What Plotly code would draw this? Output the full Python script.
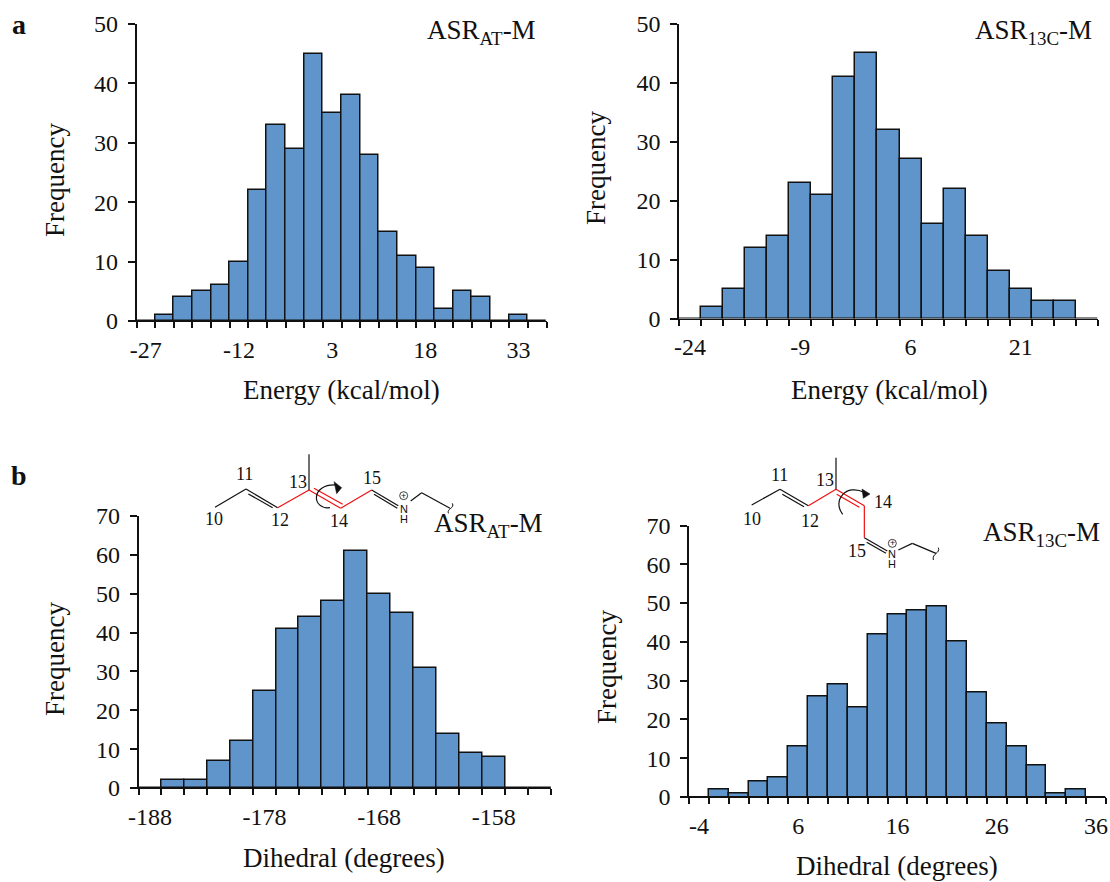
import plotly.graph_objects as go
from plotly.subplots import make_subplots

W, H = 1110, 882
FONT = "Liberation Serif"
BAR = "#5F95CA"

# ---- data ----
energy_at_bins = [str(v) for v in range(-27, 39, 3)]
energy_at_counts = [0, 1, 4, 5, 6, 10, 22, 33, 29, 45, 35, 38, 28, 15, 11, 9, 2, 5, 4, 0, 1, 0]
energy_13c_bins = [str(v) for v in range(-24, 33, 3)]
energy_13c_counts = [0, 2, 5, 12, 14, 23, 21, 41, 45, 32, 27, 16, 22, 14, 8, 5, 3, 3, 0]
dihedral_at_bins = [str(v) for v in range(-188, -152, 2)]
dihedral_at_counts = [0, 2, 2, 7, 12, 25, 41, 44, 48, 61, 50, 45, 31, 14, 9, 8, 0, 0]
dihedral_13c_bins = [str(v) for v in range(-4, 38, 2)]
dihedral_13c_counts = [0, 2, 1, 4, 5, 13, 26, 29, 23, 42, 47, 48, 49, 40, 27, 19, 13, 8, 1, 2, 0]

def px(x): return x / W
def py(y): return 1 - y / H

panels = [
    dict(bins=energy_at_bins, counts=energy_at_counts, ymax=50, x0=136.5, x1=546.5, y0=24, y1=321,
         xlabel="Energy (kcal/mol)", xl=(341, 390), yl=(55, 180),
         name="ASR<sub>AT</sub>-M", nm=(481, 32)),
    dict(bins=energy_13c_bins, counts=energy_13c_counts, ymax=50, x0=679, x1=1098, y0=24, y1=318.5,
         xlabel="Energy (kcal/mol)", xl=(889, 390), yl=(596, 168),
         name="ASR<sub>13C</sub>-M", nm=(1033, 32)),
    dict(bins=dihedral_at_bins, counts=dihedral_at_counts, ymax=70, x0=138.5, x1=551, y0=516, y1=788,
         xlabel="Dihedral (degrees)", xl=(344, 858), yl=(55, 659),
         name="ASR<sub>AT</sub>-M", nm=(488, 525)),
    dict(bins=dihedral_13c_bins, counts=dihedral_13c_counts, ymax=70, x0=689, x1=1106, y0=525.5, y1=797,
         xlabel="Dihedral (degrees)", xl=(897, 866), yl=(607, 667),
         name="ASR<sub>13C</sub>-M", nm=(1041, 534)),
]

fig = make_subplots(rows=2, cols=2)
anns = []

def text(s, x, y, size=27, bold=False, family=FONT):
    anns.append(dict(text=f"<b>{s}</b>" if bold else s, x=px(x), y=py(y), xref="paper", yref="paper",
                     showarrow=False, xanchor="center", yanchor="middle",
                     font=dict(family=family, size=size, color="#111")))

for i, p in enumerate(panels):
    r, c = i // 2 + 1, i % 2 + 1
    fig.add_trace(go.Bar(x=p["bins"], y=p["counts"],
                         marker=dict(color=BAR, line=dict(color="#111", width=1.5)),
                         width=1.0, showlegend=False), row=r, col=c)
    ticktext = [b if k % 5 == 0 else "" for k, b in enumerate(p["bins"])]
    fig.update_xaxes(type="category", categoryorder="array", categoryarray=p["bins"],
                     tickmode="array", tickvals=p["bins"], ticktext=ticktext, tickson="boundaries", tickangle=0,
                     range=[-0.5, len(p["bins"]) - 0.5], domain=[px(p["x0"]), px(p["x1"])],
                     showline=True, linecolor="#111", linewidth=1.3, ticks="outside", ticklen=6, tickwidth=1.5,
                     tickcolor="#111", showgrid=False, zeroline=False, automargin=False, ticklabelstandoff=7,
                     tickfont=dict(family=FONT, size=24, color="#111"), row=r, col=c)
    fig.update_yaxes(range=[0, p["ymax"]], tick0=0, dtick=10, domain=[py(p["y1"]), py(p["y0"])],
                     showline=True, linecolor="#111", linewidth=1.6, ticks="outside", ticklen=7, tickwidth=1.5,
                     tickcolor="#111", showgrid=False, zeroline=False, automargin=False, ticklabelstandoff=5,
                     tickfont=dict(family=FONT, size=24, color="#111"), row=r, col=c)
    text(p["xlabel"], *p["xl"])
    anns.append(dict(text="Frequency", x=px(p["yl"][0]), y=py(p["yl"][1]), xref="paper", yref="paper", textangle=-90,
                     showarrow=False, xanchor="center", yanchor="middle",
                     font=dict(family=FONT, size=27, color="#111")))
    text(p["name"], *p["nm"])

text("a", 19, 24, 28, True)
text("b", 19, 475, 28, True)

# ---- retinal fragment sketches (decoration, positioned in page pixels) ----
shapes = []
def seg(a, b, color="#111", w=1.2):
    shapes.append(dict(type="line", xref="paper", yref="paper", x0=px(a[0]), y0=py(a[1]), x1=px(b[0]), y1=py(b[1]),
                       line=dict(color=color, width=w)))
def curve(pts, color="#111", w=1.2):
    d = f"M{px(pts[0][0])},{py(pts[0][1])} C" + " ".join(f"{px(x)},{py(y)}" for x, y in pts[1:])
    shapes.append(dict(type="path", xref="paper", yref="paper", path=d, line=dict(color=color, width=w)))
def tri(pts):
    d = "M" + " L".join(f"{px(x)},{py(y)}" for x, y in pts) + " Z"
    shapes.append(dict(type="path", xref="paper", yref="paper", path=d, fillcolor="#111", line=dict(color="#111", width=0.5)))
def Z(ox, oy, x, y): return (ox + x / 3, oy + y / 3)

RED = "#F01010"
ox, oy = 190, 445
c = {k: Z(ox, oy, *v) for k, v in dict(c10=(75, 187), c11=(168, 132), c12=(263, 188), c13=(357, 135), me=(357, 28),
     c14=(452, 190), c15=(545, 135), n=(625, 182), ch=(695, 143), end=(780, 190)).items()}
seg(c["c10"], c["c11"]); seg(c["c11"], c["c12"]); seg(Z(ox, oy, 175, 147), Z(ox, oy, 248, 188))
seg(c["c12"], c["c13"], RED); seg(c["c13"], c["c14"], RED); seg(Z(ox, oy, 372, 130), Z(ox, oy, 458, 178), RED)
seg(c["c14"], c["c15"], RED); seg(c["me"], c["c13"])
seg(c["c15"], c["n"]); seg(Z(ox, oy, 552, 148), Z(ox, oy, 622, 190))
seg(Z(ox, oy, 662, 168), c["ch"]); seg(c["ch"], c["end"])
curve([Z(ox, oy, 775, 205), Z(ox, oy, 770, 190), Z(ox, oy, 795, 190), Z(ox, oy, 787, 175)], w=1)
curve([Z(ox, oy, 420, 188), Z(ox, oy, 365, 195), Z(ox, oy, 360, 115), Z(ox, oy, 440, 120)])
tri([Z(ox, oy, 432, 110), Z(ox, oy, 455, 128), Z(ox, oy, 440, 146)])
for s, x, y in [("10", 72, 222), ("11", 163, 88), ("12", 270, 225), ("13", 325, 110), ("14", 447, 228), ("15", 545, 98)]:
    text(s, *Z(ox, oy, x, y), 18)
text("N", *Z(ox, oy, 641, 191), 11, family="Liberation Sans"); text("H", *Z(ox, oy, 641, 222), 11, family="Liberation Sans")
text("+", *Z(ox, oy, 641, 152), 9, family="Liberation Sans")
shapes.append(dict(type="circle", xref="paper", yref="paper", x0=px(Z(ox, oy, 629, 0)[0]), x1=px(Z(ox, oy, 653, 0)[0]),
                   y0=py(Z(ox, oy, 0, 164)[1]), y1=py(Z(ox, oy, 0, 140)[1]), line=dict(color="#111", width=0.8)))

ox, oy = 730, 445
c = {k: Z(ox, oy, *v) for k, v in dict(c10=(65, 180), c11=(150, 133), c12=(235, 182), c13=(318, 133), me=(318, 38),
     c14=(403, 182), c15=(403, 278), n=(472, 318), ch=(547, 295), end=(618, 325)).items()}
seg(c["c10"], c["c11"]); seg(c["c11"], c["c12"]); seg(Z(ox, oy, 157, 148), Z(ox, oy, 222, 185))
seg(c["c12"], c["c13"], RED); seg(c["c13"], c["c14"], RED); seg(Z(ox, oy, 320, 148), Z(ox, oy, 388, 187), RED)
seg(c["c14"], c["c15"], RED); seg(c["me"], c["c13"])
seg(c["c15"], c["n"]); seg(Z(ox, oy, 410, 292), Z(ox, oy, 468, 325))
seg(Z(ox, oy, 505, 315), c["ch"]); seg(c["ch"], c["end"])
curve([Z(ox, oy, 610, 345), Z(ox, oy, 605, 325), Z(ox, oy, 632, 325), Z(ox, oy, 625, 308)], w=1)
curve([Z(ox, oy, 338, 208), Z(ox, oy, 305, 165), Z(ox, oy, 350, 115), Z(ox, oy, 402, 142)])
tri([Z(ox, oy, 396, 132), Z(ox, oy, 420, 147), Z(ox, oy, 400, 160)])
for s, x, y in [("10", 65, 222), ("11", 147, 90), ("12", 240, 227), ("13", 285, 105), ("14", 458, 170), ("15", 380, 318)]:
    text(s, *Z(ox, oy, x, y), 18)
text("N", *Z(ox, oy, 487, 328), 11, family="Liberation Sans"); text("H", *Z(ox, oy, 487, 357), 11, family="Liberation Sans")
text("+", *Z(ox, oy, 487, 295), 9, family="Liberation Sans")
shapes.append(dict(type="circle", xref="paper", yref="paper", x0=px(Z(ox, oy, 475, 0)[0]), x1=px(Z(ox, oy, 499, 0)[0]),
                   y0=py(Z(ox, oy, 0, 307)[1]), y1=py(Z(ox, oy, 0, 283)[1]), line=dict(color="#111", width=0.8)))

fig.update_layout(width=W, height=H, margin=dict(l=0, r=0, t=0, b=0), paper_bgcolor="white", plot_bgcolor="white",
                  bargap=0, annotations=anns, shapes=shapes, showlegend=False, font=dict(family=FONT))
fig.write_html("out.html", config=dict(displayModeBar=False), post_script="document.body.style.margin='0';")
